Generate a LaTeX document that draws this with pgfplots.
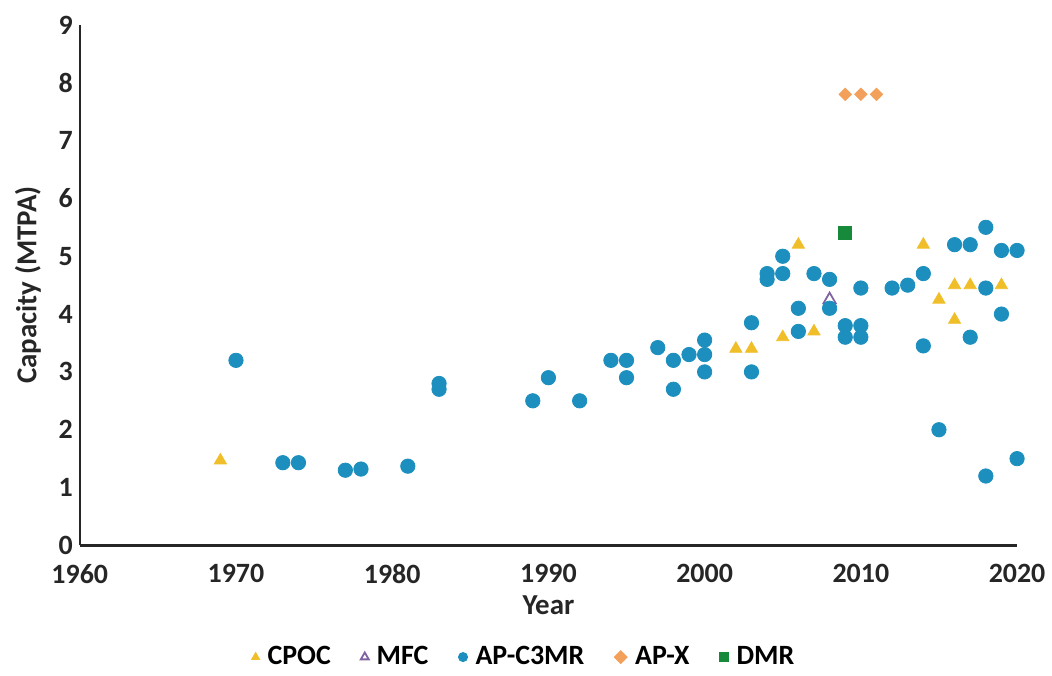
\documentclass[border=0pt]{standalone}
\usepackage{pgfplots}
\pgfplotsset{compat=1.18}
\usepackage{fontspec}
\setmainfont{Carlito}
\definecolor{cpoc}{HTML}{F0BE28}
\definecolor{mfc}{HTML}{8064A2}
\definecolor{c3mr}{HTML}{1C8FBE}
\definecolor{apx}{HTML}{F2A05A}
\definecolor{dmr}{HTML}{16893A}
\begin{document}
\begin{tikzpicture}
\begin{axis}[
  scale only axis, width=470pt, height=261pt,
  xmin=1960, xmax=2020, ymin=0, ymax=9,
  axis lines=left,
  axis line style={-, line width=1.1pt, black!85},
  xtick={1960,1970,...,2020}, ytick={0,1,...,9},
  major tick length=0pt,
  /pgf/number format/assume math mode=true,
  /pgf/number format/1000 sep={},
  tick label style={font=\bfseries\fontsize{14}{16}\selectfont, black!85},
  xticklabel style={yshift=-6pt},
  xlabel={Year}, ylabel={Capacity (MTPA)},
  label style={font=\bfseries\fontsize{14.5}{16}\selectfont, black!85},
  xlabel style={yshift=1pt},
  ylabel style={yshift=2pt},
  legend style={at={(0.475,-0.178)}, anchor=north, draw=none, legend columns=-1,
    font=\bfseries\fontsize{14}{16}\selectfont, /tikz/every odd column/.append style={column sep=2pt},
    /tikz/every even column/.append style={column sep=13pt}},
  legend image code/.code={\draw[#1, mark size=2.3pt] plot coordinates {(0.15cm,0cm)};},
  clip=false,
]
\addplot[only marks, mark=triangle*, mark size=3.5pt, color=cpoc] coordinates {
(1969,1.47) (2002,3.4) (2003,3.4) (2005,3.6) (2006,5.2) (2007,3.7)
(2014,5.2) (2015,4.25) (2016,4.5) (2017,4.5) (2019,4.5) (2016,3.9)};
\addlegendentry{CPOC}
\addplot[only marks, mark=triangle, mark size=3.5pt, color=mfc, mark options={line width=0.9pt}] coordinates {
(2008,4.25)};
\addlegendentry{MFC}
\addplot[only marks, mark=*, mark size=3.6pt, color=c3mr] coordinates {
(1970,3.2) (1973,1.43) (1974,1.43) (1977,1.3) (1978,1.32) (1981,1.37)
(1983,2.8) (1983,2.7) (1989,2.5) (1990,2.9) (1992,2.5) (1994,3.2)
(1995,3.2) (1995,2.9) (1997,3.42) (1998,3.2) (1998,2.7) (1999,3.3)
(2000,3.55) (2000,3.3) (2000,3.0) (2003,3.85) (2003,3.0) (2004,4.7)
(2004,4.6) (2005,5.0) (2005,4.7) (2006,4.1) (2006,3.7) (2007,4.7)
(2008,4.6) (2008,4.1) (2009,3.8) (2009,3.6) (2010,4.45) (2010,3.8)
(2010,3.6) (2012,4.45) (2013,4.5) (2014,4.7) (2014,3.45) (2015,2.0)
(2016,5.2) (2017,5.2) (2017,3.6) (2018,5.5) (2018,4.45) (2018,1.2)
(2019,5.1) (2019,4.0) (2020,5.1) (2020,1.5)};
\addlegendentry{AP-C3MR}
\addplot[only marks, mark=square*, mark size=2.2pt, mark options={rotate=45}, color=apx] coordinates {
(2009,7.8) (2010,7.8) (2011,7.8)};
\addlegendentry{AP-X}
\addplot[only marks, mark=square*, mark size=3.2pt, color=dmr] coordinates {
(2009,5.4)};
\addlegendentry{DMR}
\end{axis}
\path ([xshift=-40pt,yshift=12.5pt]current axis.north west);
\end{tikzpicture}
\end{document}
